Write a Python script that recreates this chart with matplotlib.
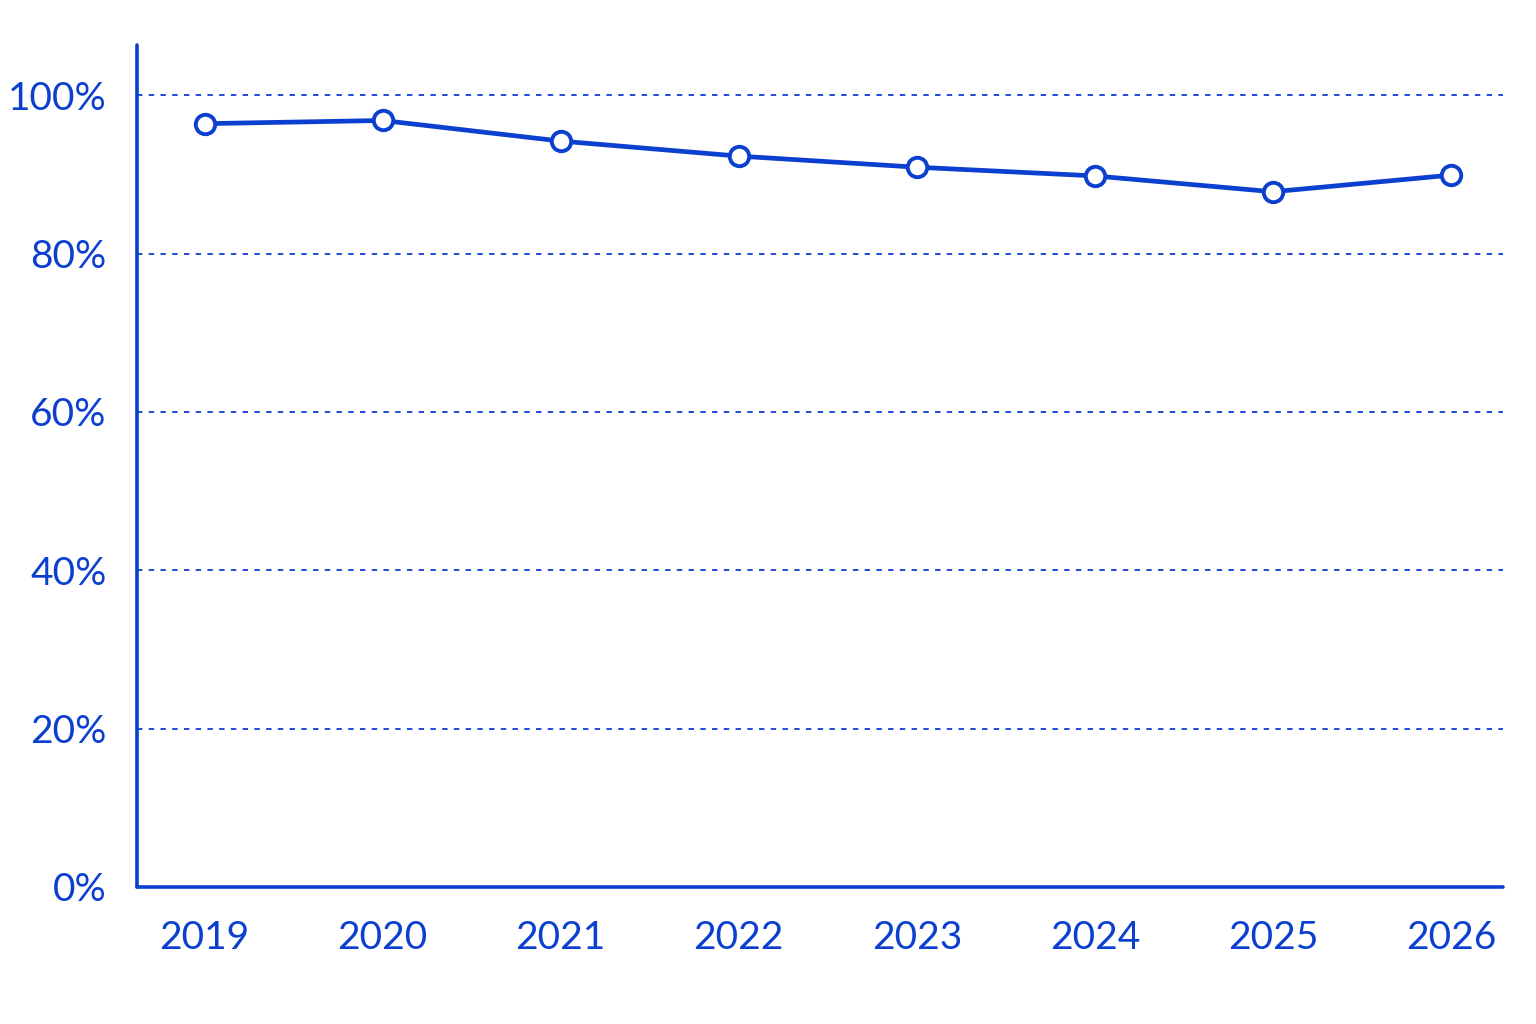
import matplotlib
matplotlib.use("Agg")
import matplotlib.pyplot as plt
from matplotlib.ticker import FuncFormatter

# share per year (%)
years = ["2019", "2020", "2021", "2022", "2023", "2024", "2025", "2026"]
share = [96.4, 96.8, 94.2, 92.3, 90.9, 89.8, 87.8, 89.9]
y_ticks = [0, 20, 40, 60, 80, 100]

blue = "#0b3fcf"

plt.rcParams['font.family'] = ['Lato', 'DejaVu Sans']

fig = plt.figure(figsize=(15.36, 10.24), dpi=100)
ax = fig.add_axes([0.0892, 0.1338, 0.889, 0.822])

x = list(range(len(years)))
ax.plot(x, share, color=blue, linewidth=3.4, solid_capstyle="round",
        marker="o", markersize=14, markerfacecolor="white",
        markeredgecolor=blue, markeredgewidth=2.8, zorder=3)

ax.set_xlim(-0.38, 7.29)
ax.set_ylim(0, 106.3)
ax.set_xticks(x)
ax.set_xticklabels(years)
ax.set_yticks(y_ticks)
ax.yaxis.set_major_formatter(FuncFormatter(lambda v, p: "%d%%" % v))

ax.grid(axis="y", color=blue, linestyle=(0, (3, 3.5)), linewidth=1.3)
ax.grid(axis="x", visible=False)
ax.set_axisbelow(True)

for s in ["top", "right"]:
    ax.spines[s].set_visible(False)
for s in ["left", "bottom"]:
    ax.spines[s].set_color(blue)
    ax.spines[s].set_linewidth(2.6)
    ax.spines[s].set_capstyle("round")

ax.tick_params(axis="both", length=0, colors=blue, labelsize=28)
ax.tick_params(axis="x", pad=24)
ax.tick_params(axis="y", pad=22)

plt.savefig("out.png", dpi=100, facecolor="white")
